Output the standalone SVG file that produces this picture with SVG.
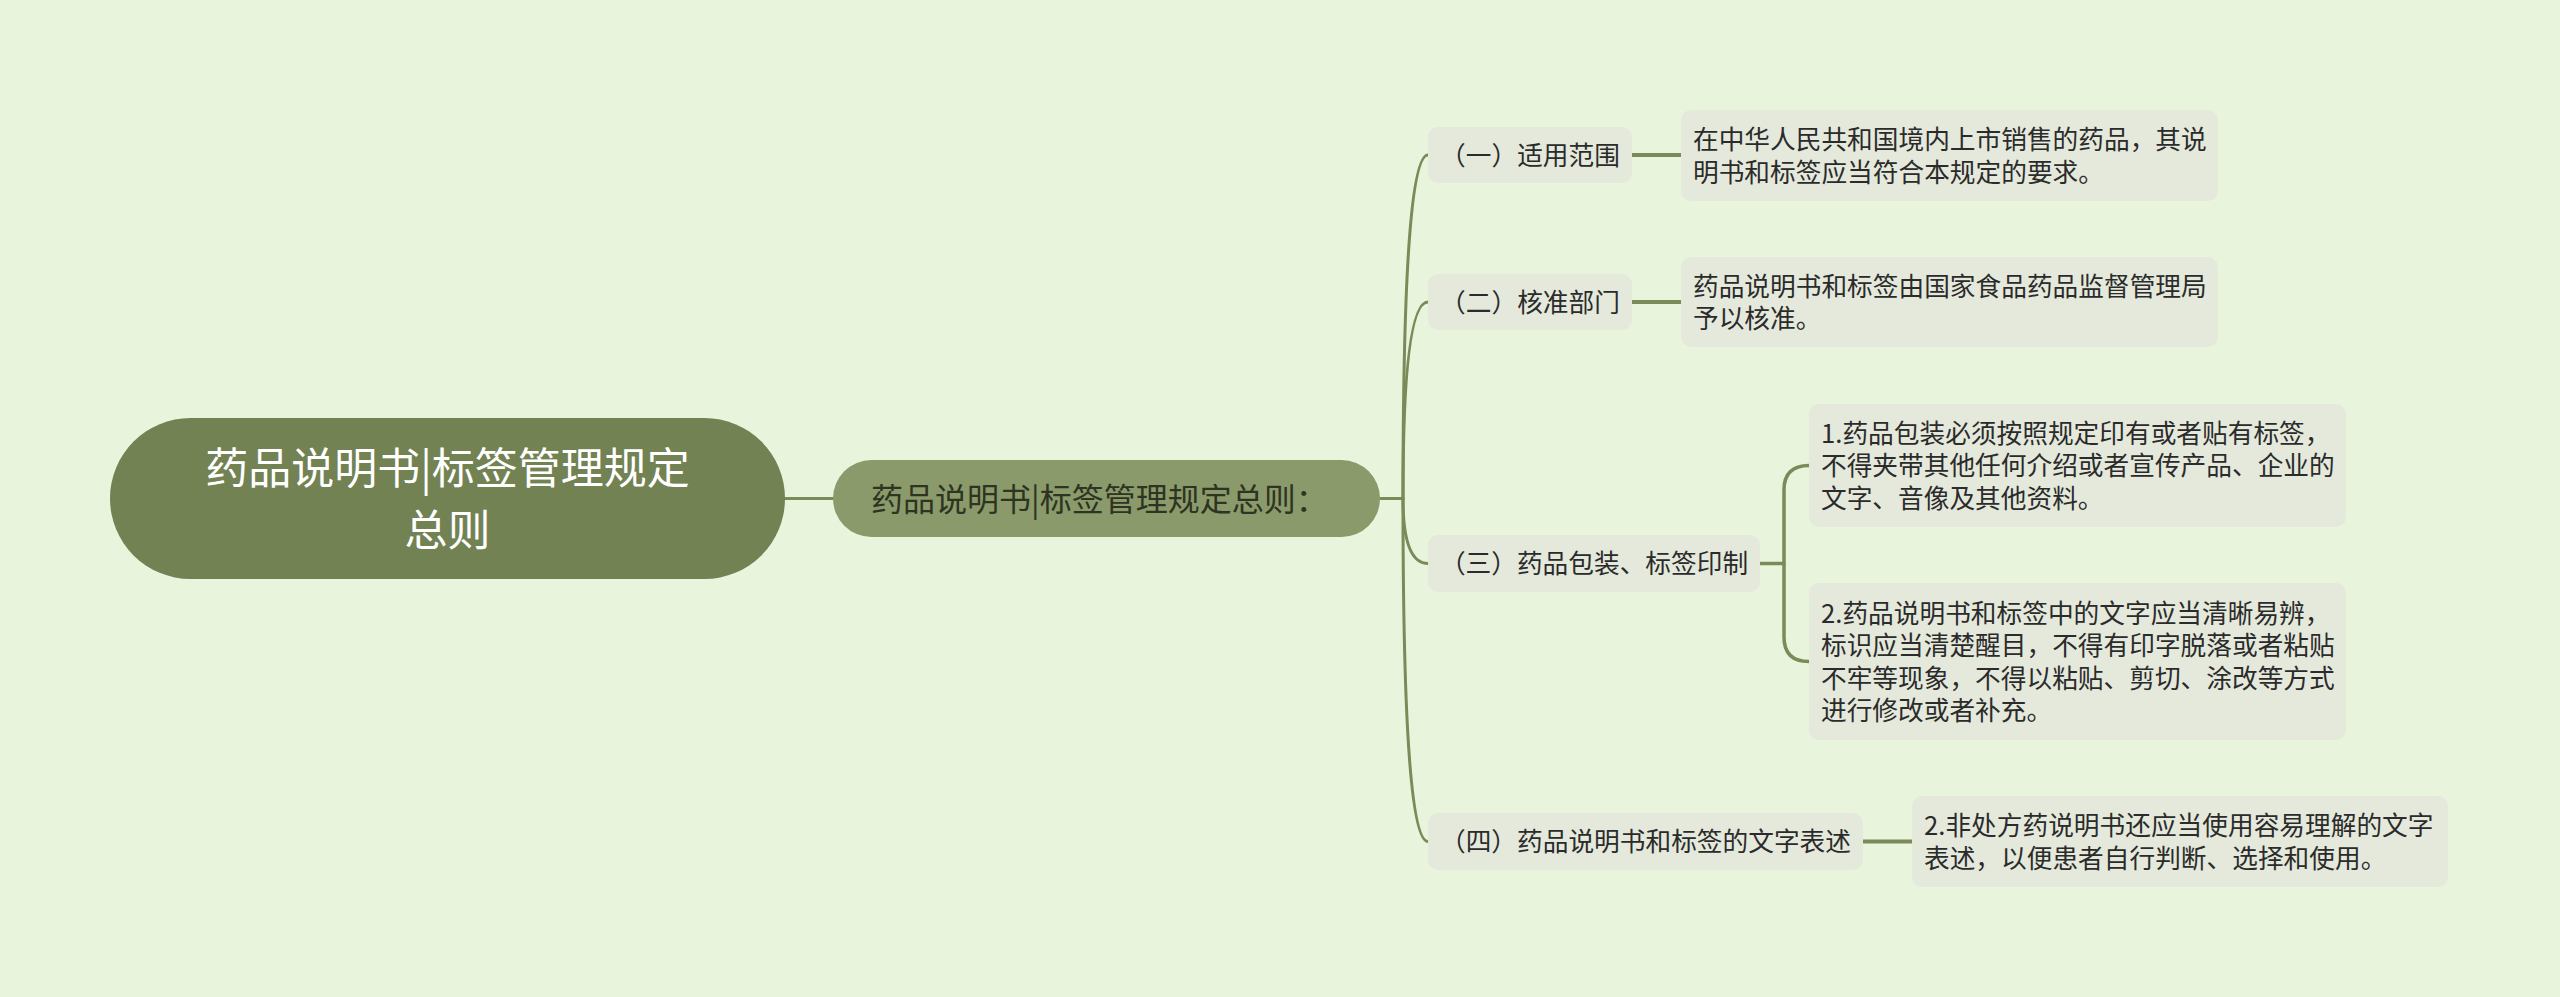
<svg xmlns="http://www.w3.org/2000/svg" width="2560" height="997" viewBox="0 0 2560 997">
<style>
text{font-family:"Noto Sans CJK SC","Noto Sans",sans-serif;}
.box{fill:#e4e9dc;}
.t{font-size:25.7px;fill:#2b2b2b;}
.c{fill:none;stroke:#7b8a58;stroke-linecap:round;}
</style>
<rect width="2560" height="997" fill="#e8f5dc"/>
<g id="connectors">
<path class="c" stroke-width="3" d="M785,498.5 L833,498.5"/>
<path class="c" stroke-width="3" d="M1380,498.5 L1403,498.5"/>
<path class="c" stroke-width="3" d="M1403,498.5 Q1403,155 1428,155"/>
<path class="c" stroke-width="3" d="M1403,498.5 Q1403,302 1428,302"/>
<path class="c" stroke-width="3" d="M1403,498.5 Q1403,563.5 1428,563.5"/>
<path class="c" stroke-width="3" d="M1403,498.5 Q1403,841.5 1428,841.5"/>
<path class="c" stroke-width="4" d="M1632,155 L1681,155"/>
<path class="c" stroke-width="4" d="M1632,302 L1681,302"/>
<path class="c" stroke-width="3.5" d="M1760,563.5 L1784,563.5"/>
<path class="c" stroke-width="3.5" d="M1809,465.5 Q1784,465.5 1784,490 L1784,637 Q1784,661.5 1809,661.5"/>
<path class="c" stroke-width="4" d="M1863,841.5 L1912,841.5"/>
</g>
<g id="root">
<rect x="110" y="418" width="675" height="161" rx="80.5" fill="#728253"/>
<text x="447.5" y="484" font-size="43" fill="#ffffff" text-anchor="middle">药品说明书|标签管理规定</text>
<text x="447.5" y="546" font-size="43" fill="#ffffff" text-anchor="middle">总则</text>
</g>
<g id="main">
<rect x="833" y="460" width="547" height="77" rx="38.5" fill="#8a9a6a"/>
<text x="871" y="510.5" font-size="32" fill="#2e3322">药品说明书|标签管理规定总则：</text>
</g>
<g id="n1">
<rect class="box" x="1428" y="127" width="204" height="56" rx="10"/>
<text class="t" x="1530" y="164.8" text-anchor="middle">（一）适用范围</text>
</g>
<g id="l1">
<rect class="box" x="1681" y="110" width="537" height="91" rx="10"/>
<text class="t" x="1693" y="149">在中华人民共和国境内上市销售的药品，其说</text>
<text class="t" x="1693" y="181.5">明书和标签应当符合本规定的要求。</text>
</g>
<g id="n2">
<rect class="box" x="1428" y="274" width="204" height="56" rx="10"/>
<text class="t" x="1530" y="311.8" text-anchor="middle">（二）核准部门</text>
</g>
<g id="l2">
<rect class="box" x="1681" y="257" width="537" height="90" rx="10"/>
<text class="t" x="1693" y="295.5">药品说明书和标签由国家食品药品监督管理局</text>
<text class="t" x="1693" y="328">予以核准。</text>
</g>
<g id="n3">
<rect class="box" x="1428" y="535" width="332" height="57" rx="10"/>
<text class="t" x="1594" y="573.3" text-anchor="middle">（三）药品包装、标签印制</text>
</g>
<g id="l3a">
<rect class="box" x="1809" y="404" width="537" height="123" rx="10"/>
<text class="t" x="1821" y="442.5">1.药品包装必须按照规定印有或者贴有标签，</text>
<text class="t" x="1821" y="475">不得夹带其他任何介绍或者宣传产品、企业的</text>
<text class="t" x="1821" y="507.5">文字、音像及其他资料。</text>
</g>
<g id="l3b">
<rect class="box" x="1809" y="583" width="537" height="157" rx="10"/>
<text class="t" x="1821" y="622.5">2.药品说明书和标签中的文字应当清晰易辨，</text>
<text class="t" x="1821" y="655">标识应当清楚醒目，不得有印字脱落或者粘贴</text>
<text class="t" x="1821" y="687.5">不牢等现象，不得以粘贴、剪切、涂改等方式</text>
<text class="t" x="1821" y="720">进行修改或者补充。</text>
</g>
<g id="n4">
<rect class="box" x="1428" y="813" width="435" height="57" rx="10"/>
<text class="t" x="1645.5" y="851.3" text-anchor="middle">（四）药品说明书和标签的文字表述</text>
</g>
<g id="l4">
<rect class="box" x="1912" y="796" width="536" height="91" rx="10"/>
<text class="t" x="1924" y="835">2.非处方药说明书还应当使用容易理解的文字</text>
<text class="t" x="1924" y="867.5">表述，以便患者自行判断、选择和使用。</text>
</g>
</svg>
